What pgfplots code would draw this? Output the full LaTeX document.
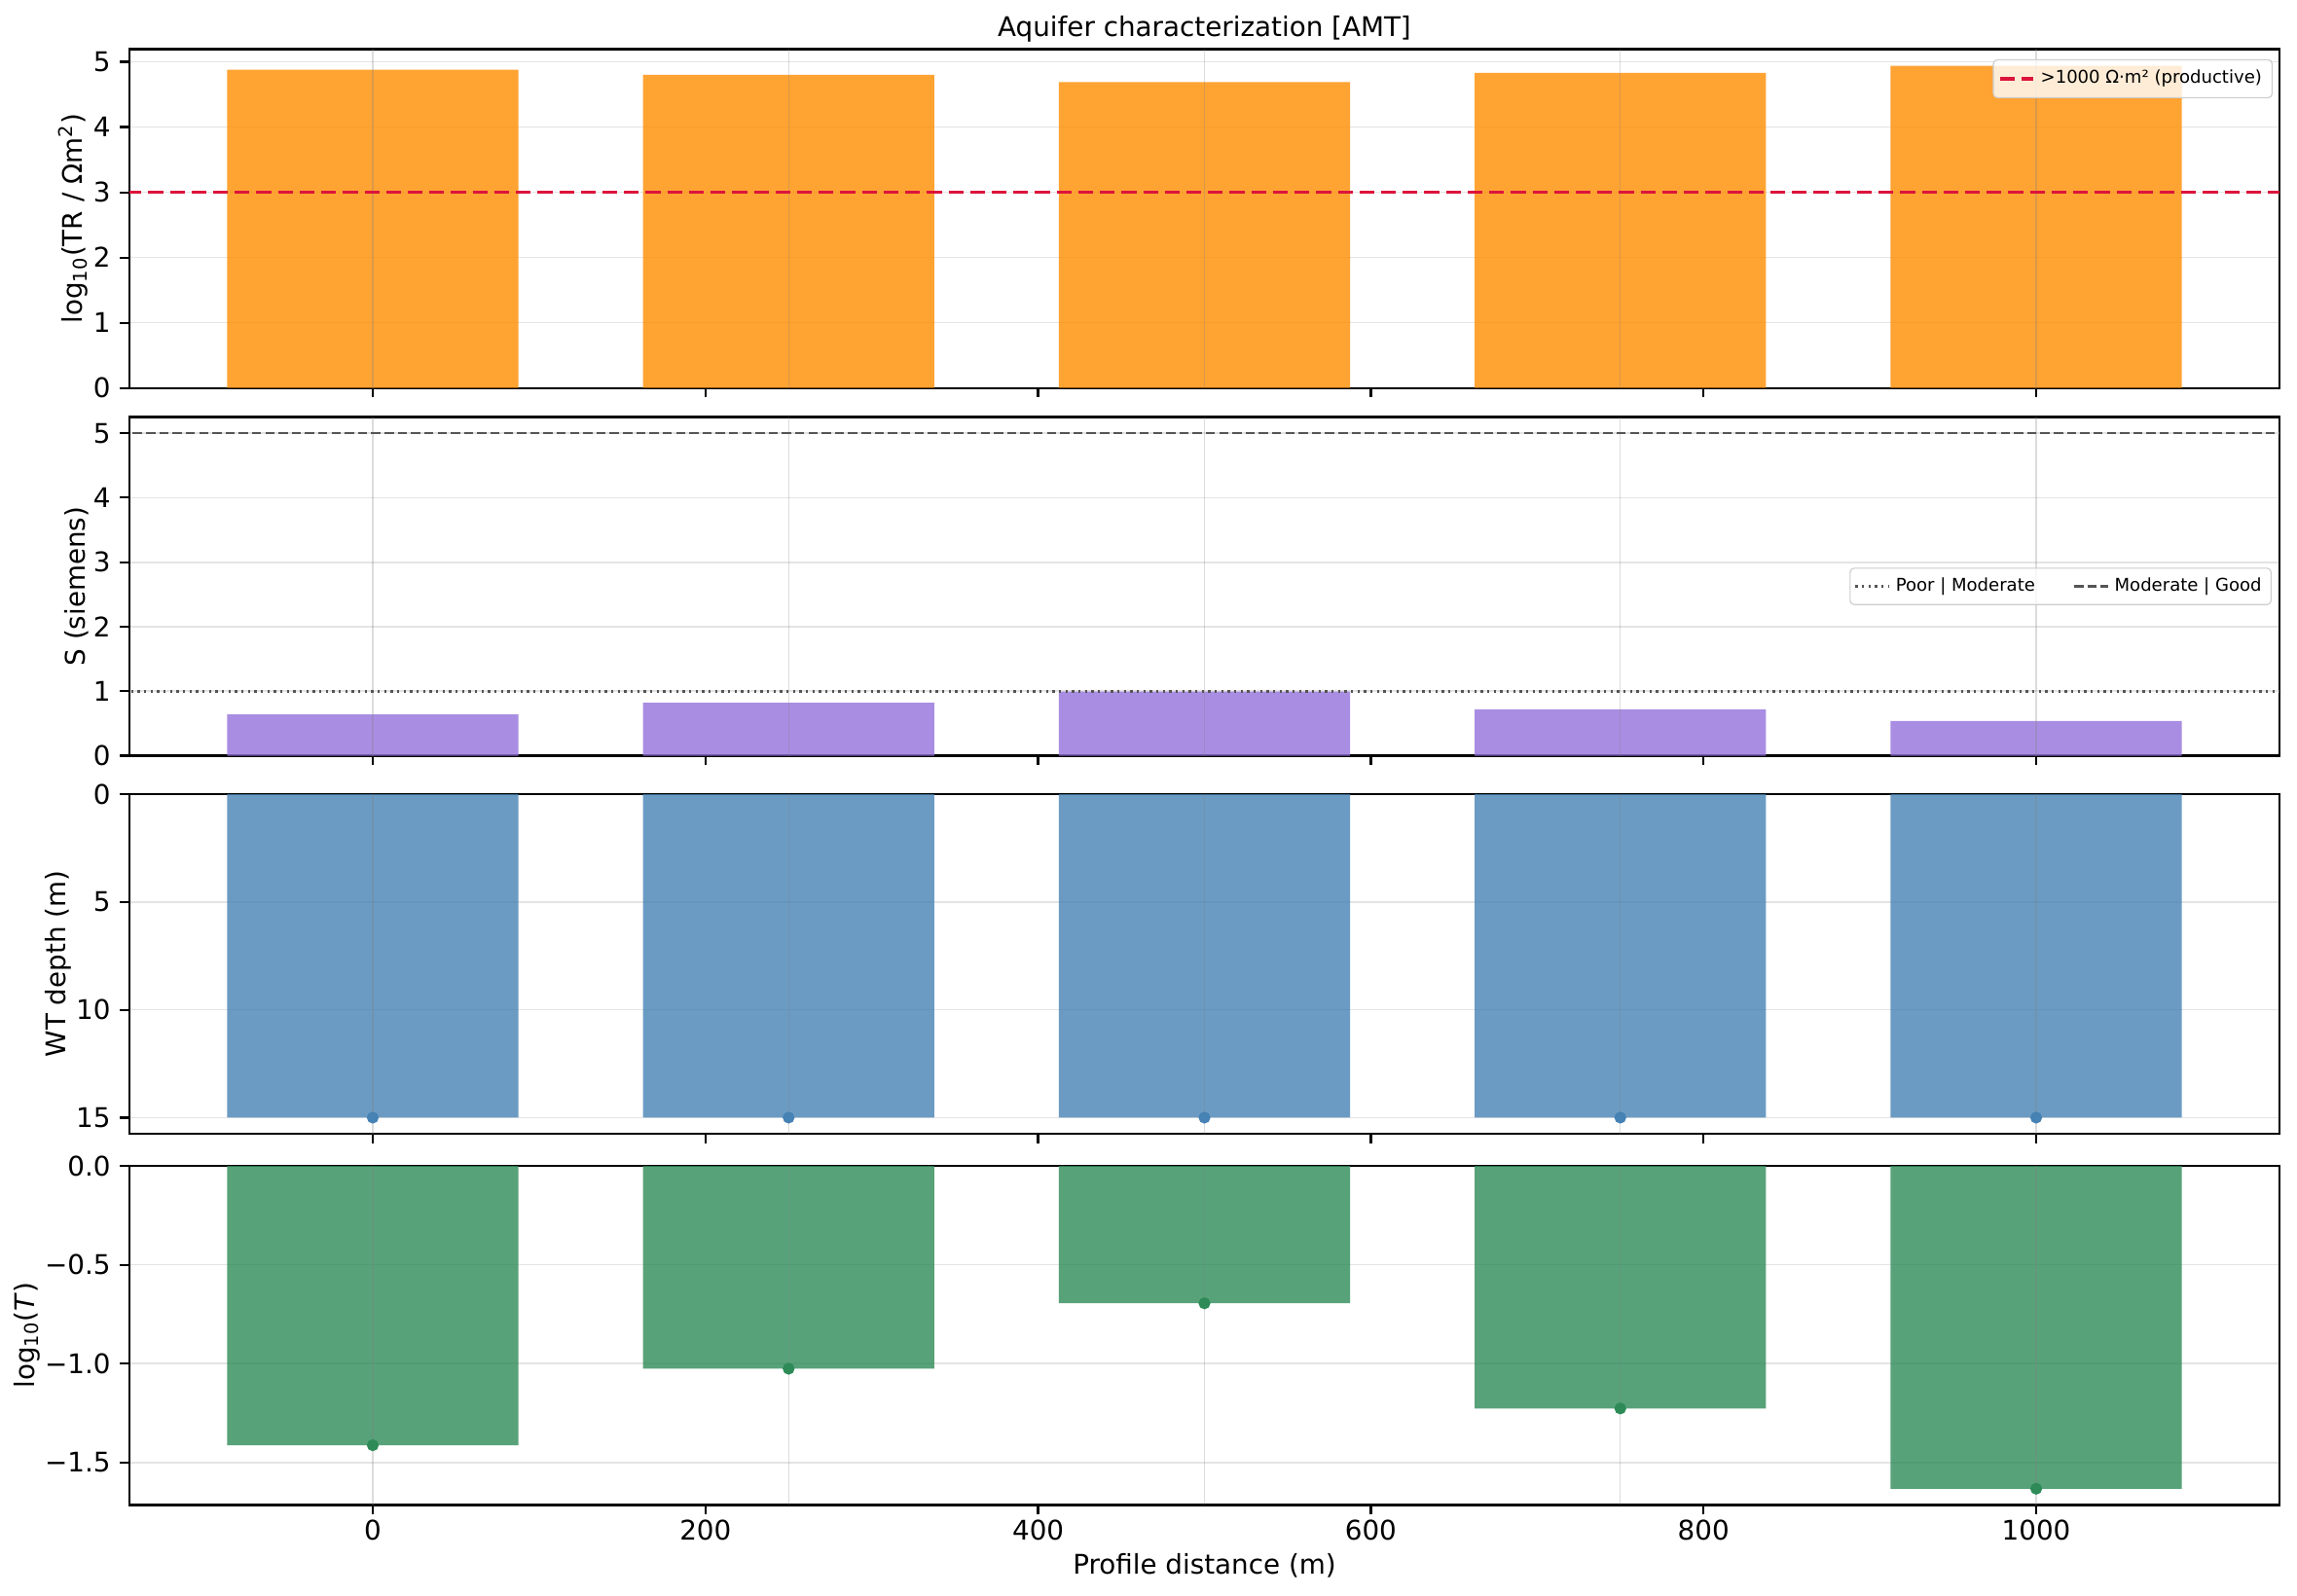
\documentclass[border=0pt]{standalone}
\usepackage{fontspec}
\setmainfont{DejaVu Sans}
\usepackage{pgfplots}
\pgfplotsset{compat=1.18}
\definecolor{cOrange}{HTML}{FF8C00}
\definecolor{cPurple}{HTML}{9370DB}
\definecolor{cBlue}{HTML}{4682B4}
\definecolor{cGreen}{HTML}{2E8B57}
\definecolor{cCrimson}{HTML}{DC143C}
\definecolor{cRef}{HTML}{555555}
\definecolor{cGrid}{HTML}{E4E4E4}
\definecolor{cLeg}{HTML}{CCCCCC}
\pgfplotsset{
  base/.style={
    scale only axis, width=795.2pt, height=125.3pt,
    anchor=north west,
    xmin=-146.25, xmax=1146.25,
    xtick={0,200,400,600,800,1000},
    xticklabels={},
    tick align=outside, major tick length=3.5pt,
    xtick pos=left, ytick pos=left,
    every tick/.style={black, line width=0.8pt},
    axis line style={line width=0.8pt},
    ymajorgrids, grid style={color=cGrid, line width=0.6pt},
    /pgf/number format/assume math mode=true,
    /pgf/number format/1000 sep={},
    tick label style={font=\fontsize{10}{12}\selectfont},
    label style={font=\fontsize{10}{12}\selectfont},
    ylabel shift=-5pt,
    legend cell align=left,
    legend image code/.code={\draw[##1] (0pt,0pt) -- (12.5pt,0pt);},
  },
  bars/.style={ybar, bar width=175, bar shift=0pt, draw=none, fill opacity=0.8, forget plot},
  st/.style={gray, opacity=0.28, line width=0.45pt, forget plot},
}
\newcommand{\stations}{%
  \addplot[st] coordinates {(0,-100) (0,100)};
  \addplot[st] coordinates {(250,-100) (250,100)};
  \addplot[st] coordinates {(500,-100) (500,100)};
  \addplot[st] coordinates {(750,-100) (750,100)};
  \addplot[st] coordinates {(1000,-100) (1000,100)};
}
\begin{document}
\begin{tikzpicture}
\path[use as bounding box] (0pt,0pt) rectangle (849.6pt,-590.4pt);

% Panel 1
\begin{axis}[base, at={(47.9pt,-18.25pt)},
  ymin=0, ymax=5.194, ytick={0,1,2,3,4,5},
  ylabel={log\textsubscript{10}(TR / Ωm\textsuperscript{2})},
  title={Aquifer characterization [AMT]},
  every axis title shift=0pt,
  title style={font=\fontsize{10}{12}\selectfont, at={(0.5,1)}, anchor=base, yshift=4.6pt},
  legend style={font=\fontsize{6.5}{7.8}\selectfont, draw=cLeg, rounded corners=1.5pt,
    fill=white, fill opacity=0.8, text opacity=1, inner sep=1.8pt,
    at={(1,1)}, anchor=north east, xshift=-2.5pt, yshift=-3.7pt},
]
\addplot[bars, fill=cOrange] coordinates {(0,4.88) (250,4.80) (500,4.69) (750,4.83) (1000,4.94)};
\stations
\addplot[cCrimson, line width=1.2pt, dash pattern=on 5.5pt off 2.5pt] coordinates {(-200,3) (1200,3)};
\addlegendentry{>1000 Ω·m² (productive)}
\end{axis}

% Panel 2
\begin{axis}[base, at={(47.9pt,-154.3pt)},
  ymin=0, ymax=5.25, ytick={0,1,2,3,4,5},
  ylabel={S (siemens)},
  legend columns=2,
  legend style={font=\fontsize{6.5}{7.8}\selectfont, draw=cLeg, rounded corners=1.5pt,
    fill=white, fill opacity=0.8, text opacity=1, inner sep=1.5pt,
    at={(1,0.5)}, anchor=east, xshift=-2.9pt,
    /tikz/every even column/.append style={column sep=12pt}},
]
\addplot[bars, fill=cPurple] coordinates {(0,0.64) (250,0.82) (500,0.995) (750,0.72) (1000,0.54)};
\stations
\addplot[cRef, line width=0.9pt, dash pattern=on 0.9pt off 1.5pt] coordinates {(-200,1) (1200,1)};
\addlegendentry{Poor | Moderate}
\addplot[cRef, line width=0.9pt, dash pattern=on 3.4pt off 1.5pt] coordinates {(-200,5) (1200,5)};
\addlegendentry{Moderate | Good}
\end{axis}

% Panel 3
\begin{axis}[base, at={(47.9pt,-293.8pt)}, height=125.6pt,
  ymin=0, ymax=15.75, y dir=reverse, ytick={0,5,10,15},
  ylabel={WT depth (m)},
]
\addplot[bars, fill=cBlue] coordinates {(0,15) (250,15) (500,15) (750,15) (1000,15)};
\stations
\addplot[only marks, mark=*, mark size=2pt, color=cBlue, forget plot] coordinates {(0,15) (250,15) (500,15) (750,15) (1000,15)};
\end{axis}

% Panel 4
\begin{axis}[base, at={(47.9pt,-431.4pt)}, height=125.4pt,
  ymin=-1.715, ymax=0, ytick={-1.5,-1,-0.5,0},
  yticklabels={−1.5,−1.0,−0.5,0.0},
  xticklabels={0,200,400,600,800,1000},
  xticklabel style={yshift=1.5pt},
  xlabel style={yshift=2pt},
  ylabel={log\textsubscript{10}(\textit{T})},
  xlabel={Profile distance (m)},
]
\addplot[bars, fill=cGreen] coordinates {(0,-1.413) (250,-1.026) (500,-0.695) (750,-1.227) (1000,-1.633)};
\stations
\addplot[only marks, mark=*, mark size=2pt, color=cGreen, forget plot] coordinates {(0,-1.413) (250,-1.026) (500,-0.695) (750,-1.227) (1000,-1.633)};
\end{axis}
\end{tikzpicture}
\end{document}
